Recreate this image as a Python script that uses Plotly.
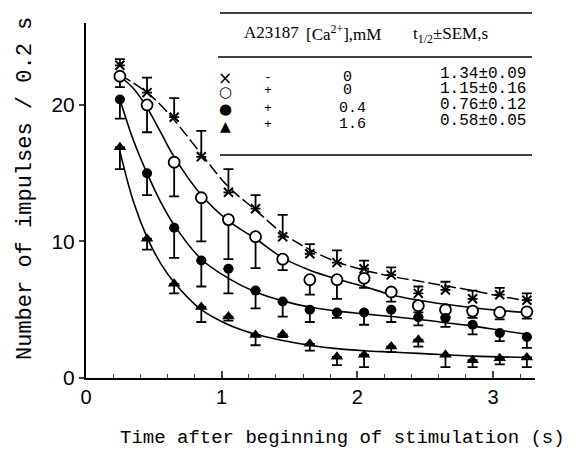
import plotly.graph_objects as go

# ---- data ----
time_s = [0.25, 0.45, 0.65, 0.85, 1.05, 1.25, 1.45, 1.65, 1.85, 2.05, 2.25, 2.45, 2.65, 2.85, 3.05, 3.25]

cross_y = [22.9, 20.9, 19.1, 16.2, 13.6, 12.4, 10.35, 9.1, 8.45, 8.0, 7.55, 6.2, 6.45, 5.8, 6.1, 5.7]
cross_err = [0.45, 1.1, 1.4, 1.9, 1.7, 1.0, 1.6, 0.7, 0.9, 0.6, 0.55, 0.5, 0.6, 0.6, 0.5, 0.5]

open_y = [22.1, 20.0, 15.8, 13.2, 11.6, 10.35, 8.7, 7.2, 7.2, 7.3, 6.3, 5.3, 5.0, 4.9, 4.8, 4.85]
open_err = [0.8, 2.0, 2.5, 3.2, 2.9, 2.3, 0.8, 1.1, 1.4, 0.7, 0.7, 0.5, 0.5, 0.5, 0.5, 0.5]

filled_y = [20.4, 15.0, 11.0, 8.6, 8.0, 6.4, 5.6, 5.0, 4.8, 4.8, 5.0, 4.45, 4.4, 3.9, 3.3, 3.0]
filled_err = [1.4, 1.6, 2.2, 1.9, 1.8, 1.3, 1.1, 0.9, 0.4, 0.9, 0.9, 0.6, 0.65, 0.7, 0.6, 0.8]

tri_y = [16.9, 10.2, 6.9, 5.2, 4.5, 3.15, 3.2, 2.5, 1.55, 1.7, 2.3, 2.8, 1.7, 1.3, 1.45, 1.5]
tri_err = [1.6, 0.8, 0.7, 1.1, 0.3, 0.75, 0.2, 0.5, 0.6, 0.9, 0.4, 0.5, 0.9, 0.5, 0.45, 0.7]

fit_x = [0.25, 0.35, 0.45, 0.55, 0.65, 0.85, 1.05, 1.25, 1.45, 1.65, 1.85, 2.05, 2.25, 2.45, 2.65, 2.85, 3.05, 3.25]
fit_cross = [22.2, 21.6, 20.9, 20.0, 18.9, 16.4, 14.0, 12.3, 10.6, 9.4, 8.5, 7.9, 7.45, 7.1, 6.75, 6.4, 6.0, 5.65]
fit_open = [22.1, 21.2, 19.8, 18.0, 16.2, 13.4, 11.5, 10.2, 8.8, 7.9, 7.25, 6.7, 6.1, 5.7, 5.4, 5.15, 4.95, 4.8]
fit_filled = [20.4, 17.4, 15.0, 12.9, 11.2, 8.7, 7.3, 6.3, 5.65, 5.2, 4.9, 4.7, 4.5, 4.3, 4.05, 3.8, 3.5, 3.2]
fit_tri = [16.6, 12.9, 10.3, 8.4, 7.0, 5.0, 3.9, 3.2, 2.75, 2.4, 2.15, 2.0, 1.9, 1.8, 1.7, 1.6, 1.55, 1.5]

legend_symbols = ["×", "○", "●", "▲"]
legend_a23187 = ["-", "+", "+", "+"]
legend_ca = ["0", "0", "0.4", "1.6"]
legend_thalf = ["1.34±0.09", "1.15±0.16", "0.76±0.12", "0.58±0.05"]

x_ticks = [0, 1, 2, 3]
y_ticks = [0, 10, 20]

# ---- layout geometry (page pixels; the page body adds an 8px offset) ----
OFF = 8
W, H = 578, 457
L, R, T, B = 86, 535, 23, 378

def pxx(p):
    return (p - L) / (R - L)

def pxy(p):
    return (B - p) / (B - T)

fig = go.Figure()
line_style = dict(color="black", width=1.6)

fig.add_trace(go.Scatter(x=fit_x, y=fit_cross, mode="lines",
                         line=dict(color="black", width=1.5, dash="12px,4px", shape="spline"), hoverinfo="skip"))
fig.add_trace(go.Scatter(x=fit_x, y=fit_open, mode="lines", line=dict(line_style, shape="spline"), hoverinfo="skip"))
fig.add_trace(go.Scatter(x=fit_x, y=fit_filled, mode="lines", line=dict(line_style, shape="spline"), hoverinfo="skip"))
fig.add_trace(go.Scatter(x=fit_x, y=fit_tri, mode="lines", line=dict(line_style, shape="spline"), hoverinfo="skip"))

zeros = [0] * len(time_s)
eb = dict(type="data", symmetric=False, color="black", thickness=1.8, width=5)

fig.add_trace(go.Scatter(x=time_s, y=cross_y, mode="markers",
                         marker=dict(symbol="x-thin", size=9, line=dict(color="black", width=2), color="black"),
                         error_y=dict(eb, array=cross_err, arrayminus=zeros)))
fig.add_trace(go.Scatter(x=time_s, y=open_y, mode="markers",
                         marker=dict(symbol="circle", size=11, color="white", line=dict(color="black", width=1.8)),
                         error_y=dict(eb, array=zeros, arrayminus=open_err)))
fig.add_trace(go.Scatter(x=time_s, y=filled_y, mode="markers",
                         marker=dict(symbol="circle", size=10, color="black"),
                         error_y=dict(eb, array=zeros, arrayminus=filled_err)))
fig.add_trace(go.Scatter(x=time_s, y=tri_y, mode="markers",
                         marker=dict(symbol="triangle-up", size=11, color="black"),
                         error_y=dict(eb, array=zeros, arrayminus=tri_err)))

# ---- legend table ----
shapes = []
for yp, x0 in [(13, 220), (57, 218), (155, 220)]:
    shapes.append(dict(type="line", xref="paper", yref="paper", x0=pxx(x0), x1=pxx(532),
                       y0=pxy(yp), y1=pxy(yp), line=dict(color="black", width=1.5)))

ann = []
serif = "Liberation Serif"
mono = "Liberation Mono"
ann.append(dict(text="A23187", x=pxx(242), y=pxy(33), xanchor="left", yanchor="middle",
                font=dict(family=serif, size=17)))
ann.append(dict(text="[Ca<sup>2+</sup>],mM", x=pxx(304), y=pxy(33), xanchor="left", yanchor="middle",
                font=dict(family=serif, size=17)))
ann.append(dict(text="t<sub>1/2</sub>±SEM,s", x=pxx(411), y=pxy(35), xanchor="left", yanchor="middle",
                font=dict(family=serif, size=17)))

sym_y = [78, 92, 109, 126]
val_y = [74, 89, 105, 121]
ca_x = [347, 347, 352, 352]
sym_sizes = [17, 15, 15, 14]
for i in range(4):
    ann.append(dict(text=legend_symbols[i], x=pxx(225), y=pxy(sym_y[i]), xanchor="center", yanchor="middle",
                    font=dict(family="DejaVu Sans", size=sym_sizes[i])))
    ann.append(dict(text=legend_a23187[i], x=pxx(268), y=pxy(sym_y[i] - 1), xanchor="center", yanchor="middle",
                    font=dict(family=mono, size=13)))
    ann.append(dict(text=legend_ca[i], x=pxx(ca_x[i]), y=pxy(sym_y[i] - 1), xanchor="center", yanchor="middle",
                    font=dict(family=mono, size=15)))
    ann.append(dict(text=legend_thalf[i], x=pxx(528), y=pxy(val_y[i]), xanchor="right", yanchor="middle",
                    font=dict(family=mono, size=16)))

# axis titles
ann.append(dict(text="Time after beginning of stimulation (s)", x=pxx(342), y=pxy(438),
                xanchor="center", yanchor="middle", font=dict(family=mono, size=19)))
ann.append(dict(text="Number of impulses / 0.2 s", x=pxx(25), y=pxy(189), textangle=-90,
                xanchor="center", yanchor="middle", font=dict(family=mono, size=22)))

for a in ann:
    a.update(xref="paper", yref="paper", showarrow=False)

fig.update_layout(
    width=W - OFF, height=H - OFF,
    margin=dict(l=L - OFF, r=W - R, t=T - OFF, b=H - B, pad=0),
    paper_bgcolor="white", plot_bgcolor="white",
    showlegend=False,
    shapes=shapes, annotations=ann,
    font=dict(family="Liberation Sans", color="black"),
    xaxis=dict(range=[0, 3.31], tickvals=x_ticks, ticks="inside", ticklen=7, tickwidth=1.5,
               showline=True, linewidth=2, linecolor="black", showgrid=False, zeroline=False,
               tickfont=dict(family="Liberation Sans", size=20),
               minor=dict(tick0=0, dtick=0.2, ticks="inside", ticklen=4, tickwidth=1.2, showgrid=False)),
    yaxis=dict(range=[0, 26], tickvals=y_ticks, ticks="outside", ticklen=5, tickwidth=1.5,
               showline=True, linewidth=2, linecolor="black", showgrid=False, zeroline=False,
               tickfont=dict(family="Liberation Sans", size=21)),
)

fig.write_html("out.html")
